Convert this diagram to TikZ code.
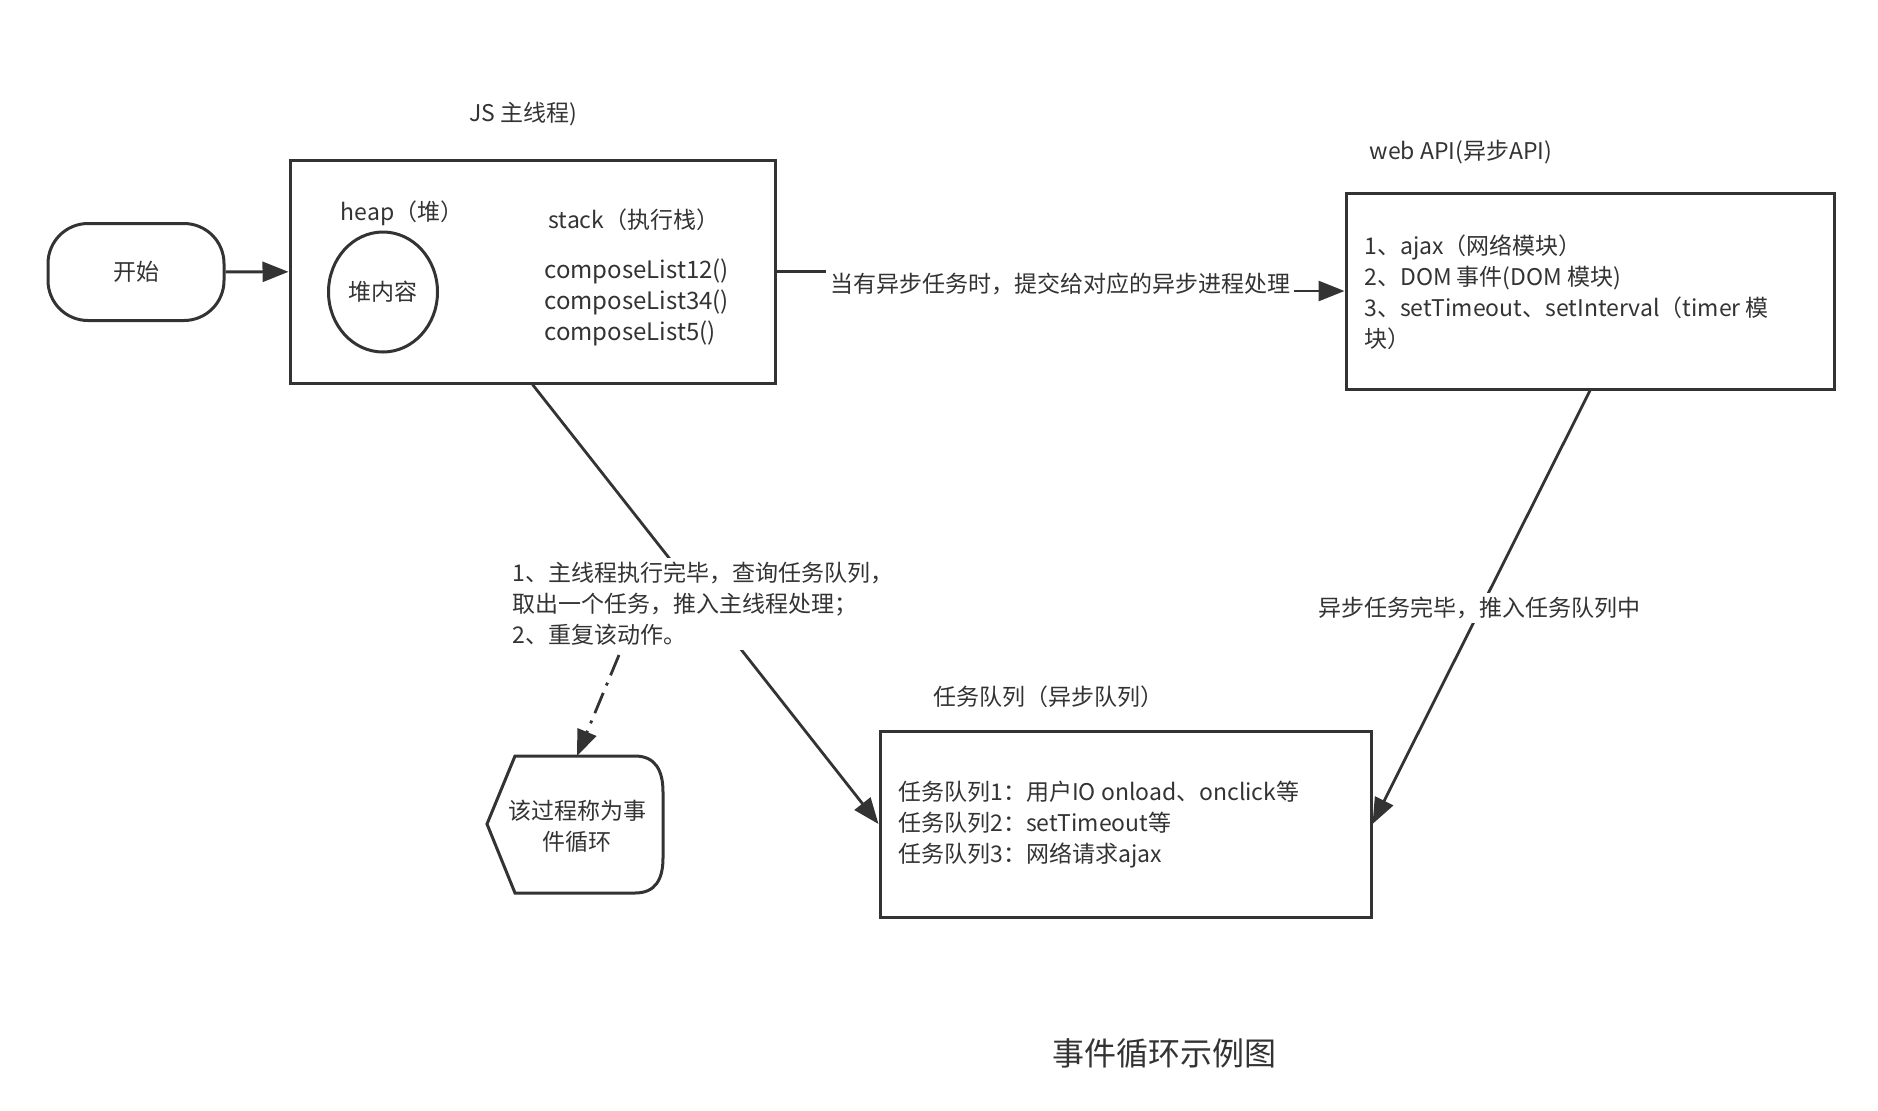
\documentclass[tikz,border=0pt]{standalone}
\usepackage{fontspec}
\setmainfont{Noto Sans CJK SC}
\usetikzlibrary{arrows.meta,shapes.geometric,calc}
\definecolor{ink}{HTML}{333333}
\begin{document}
\begin{tikzpicture}[x=0.5pt,y=-0.5pt,
  txt/.style={text=ink, font=\fontsize{11.5}{15.5}\selectfont, inner sep=1pt},
  boxed/.style={draw=ink, line width=1.5pt, inner sep=0pt},
  arr/.style={draw=ink, line width=1.4pt, -{Triangle[length=13pt,width=10pt]}},
  lbl/.style={txt, fill=white, align=left, inner sep=2pt}]
\useasboundingbox (0,0) rectangle (1878,1110);
% nodes
\node[boxed, rounded corners=20pt, minimum width=88pt, minimum height=48.5pt, txt] (start) at (136,272) {开始};
\node[boxed, minimum width=242.5pt, minimum height=111.5pt] (js) at (532.5,271.5) {};
\node[boxed, minimum width=244pt, minimum height=98pt] (web) at (1590,291) {};
\node[boxed, minimum width=245.5pt, minimum height=93pt] (queue) at (1125.5,824) {};
\node[ellipse, boxed, minimum width=54.5pt, minimum height=60pt, txt] (heapc) at (383,292) {堆内容};
% titles and texts
\node[txt] (jst) at (523,114) {JS 主线程)};
\node[txt] (heapt) at (402,213) {heap（堆）};
\node[txt] (stackt) at (634,220) {stack（执行栈）};
\node[txt, align=left, anchor=west, font=\fontsize{12}{15.5}\selectfont] (stackl) at (542,302) {composeList12()\\composeList34()\\composeList5()};
\node[txt] (webt) at (1461,152) {web API(异步API)};
\node[txt, align=left, anchor=west] (webl) at (1362,292) {1、ajax（网络模块）\\2、DOM 事件(DOM 模块)\\3、setTimeout、setInterval（timer 模\\块）};
\node[txt] (queuet) at (1048,697) {任务队列（异步队列）};
\node[txt, align=left, anchor=west] (queuel) at (896,825) {任务队列1：用户IO onload、onclick等\\任务队列2：setTimeout等\\任务队列3：网络请求ajax};
% loop shape
\draw[ink, line width=1.5pt] (487,824) -- (515,756) -- (635,756) .. controls (655,756) and (663,770) .. (663,792) -- (663,858) .. controls (663,880) and (655,893) .. (635,893) -- (515,893) -- cycle;
\node[txt, align=center] (loop) at (577,826) {该过程称为事\\件循环};
\coordinate (looptop) at (577,756);
\node[font=\fontsize{16}{20}\selectfont, text=ink] (title) at (1164,1053) {事件循环示例图};
% connectors
\draw[arr] (start) -- (js);
\coordinate (bend) at (1060,284);
\draw[arr] (js.east) -- (js.east -| bend) -- (bend |- web.west) -- (web.west);
\node[lbl] (l1) at (bend) {当有异步任务时，提交给对应的异步进程处理};
\draw[arr] (js.south) -- (queue.west);
\node[lbl] (l2) at (703,604) {1、主线程执行完毕，查询任务队列，\\取出一个任务，推入主线程处理；\\2、重复该动作。};
\coordinate (dstart) at (619,655);
\draw[arr, dash pattern=on 11pt off 4pt on 1.5pt off 4pt] (dstart) -- (looptop);
\draw[arr] (web.south) -- (queue.east);
\node[lbl] (l3) at (1479,608) {异步任务完毕，推入任务队列中};
\end{tikzpicture}
\end{document}
